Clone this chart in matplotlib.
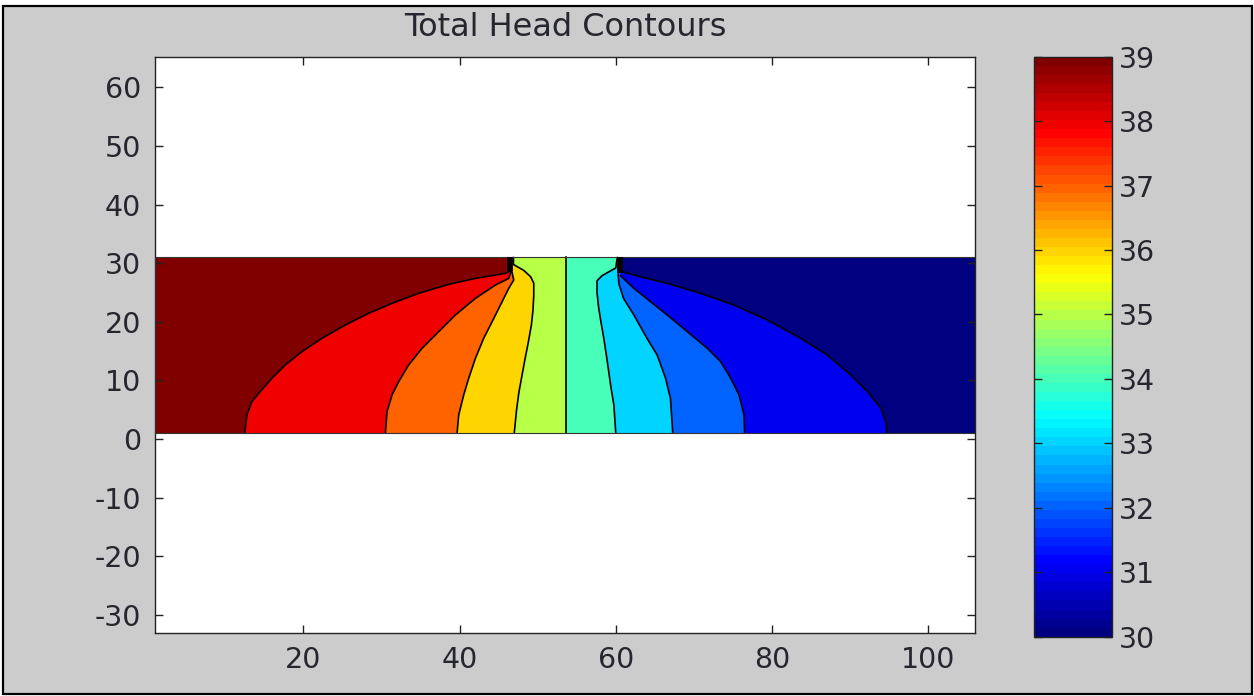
import matplotlib
matplotlib.use("Agg")
import matplotlib.pyplot as plt
import numpy as np
from matplotlib.patches import Rectangle
from matplotlib.colors import Normalize, ListedColormap
from matplotlib.cm import ScalarMappable

plt.rcParams['font.family'] = ['DejaVu Sans']
plt.rcParams['axes.unicode_minus'] = False

# ---- data ----
title = "Total Head Contours"
domain_x = [1, 106]
domain_y = [1, 31]
split_x = 53.6            # 35|34 contour (vertical)

# band head values (left to right)
heads_left = [39, 38, 37, 36, 35]
heads_right = [34, 33, 32, 31, 30]

# contour boundaries, points from bottom to top (x values, y values)
b1_x = [12.5, 12.76, 13.4, 14.46, 15.96, 17.67, 19.81, 22.37, 25.36, 28.35, 31.35, 34.76, 38.6, 42.03, 45.87, 46.5]
b1_y = [1, 4.11, 6.38, 8.09, 10.37, 12.64, 14.91, 17.19, 19.46, 21.45, 23.16, 24.87, 26.4, 27.42, 28.28, 28.7]
b2_x = [30.5, 30.71, 31.35, 32.2, 33.48, 35.19, 37.32, 39.46, 42.03, 44.59, 46.3, 46.6]
b2_y = [1, 4.68, 7.52, 9.8, 12.64, 15.48, 18.32, 21.17, 24.01, 26.28, 27.42, 28.6]
b3_x = [39.68, 39.89, 40.53, 41.17, 42.03, 43.09, 44.17, 45.45, 46.3, 46.94, 46.7]
b3_y = [1, 4.11, 7.52, 10.37, 13.78, 17.19, 20.03, 23.44, 25.72, 27.14, 28.6]
b4_x = [47.0, 47.3, 47.6, 48.0, 48.4, 48.8, 49.2, 49.4, 49.5, 49.5, 49.1, 48.2, 47.4, 46.9, 46.9]
b4_y = [1, 5.0, 8.0, 10.9, 13.8, 16.5, 19.5, 22.0, 24.5, 26.6, 27.7, 28.8, 29.4, 29.8, 31]
b6_x = [60.0, 59.76, 59.4, 59.1, 58.8, 58.47, 58.1, 57.8, 57.6, 57.6, 58.26, 59.2, 60.0, 60.2]
b6_y = [1, 5.8, 8.7, 11.5, 14.3, 17.19, 20.0, 22.5, 25.0, 27.0, 27.9, 28.6, 29.2, 31]
b7_x = [67.3, 67.0, 66.38, 65.3, 64.0, 62.32, 61.0, 60.4, 60.3]
b7_y = [1, 6.95, 10.37, 14.34, 17.19, 21.17, 24.0, 26.5, 28.2]
b8_x = [76.5, 76.42, 75.79, 74.72, 73.44, 71.73, 69.17, 66.6, 64.46, 62.32, 60.6]
b8_y = [1, 4.11, 7.52, 10.37, 13.2, 15.48, 18.32, 21.17, 23.44, 25.72, 27.9]
b9_x = [94.72, 94.59, 93.95, 92.24, 90.1, 87.1, 83.69, 79.41, 75.14, 70.87, 66.6, 63.18, 60.83]
b9_y = [1, 2.97, 5.25, 8.09, 10.93, 14.34, 17.19, 20.31, 22.87, 24.87, 26.57, 27.7, 28.56]

# sheet piles (x position, bottom tip)
pile_x = [46.5, 60.6]
pile_bottom = [28.7, 28.3]

x_ticks = [20, 40, 60, 80, 100]
y_ticks = [-30, -20, -10, 0, 10, 20, 30, 40, 50, 60]
cbar_ticks = [30, 31, 32, 33, 34, 35, 36, 37, 38, 39]
vmin, vmax = 30, 39


def matlab_jet(t):
    t = np.asarray(t, dtype=float)
    r = np.clip(np.minimum(4 * t - 1.5, -4 * t + 4.5), 0, 1)
    g = np.clip(np.minimum(4 * t - 0.5, -4 * t + 3.5), 0, 1)
    b = np.clip(np.minimum(4 * t + 0.5, -4 * t + 2.5), 0, 1)
    return np.stack([r, g, b], axis=-1)


jet64 = ListedColormap(matlab_jet(np.linspace(0, 1, 64)), name='mjet64')
norm = Normalize(vmin, vmax)


def band_color(h):
    return tuple(matlab_jet(norm(h)))


# ---- figure ----
W, H = 1254, 696
fig = plt.figure(figsize=(W / 100, H / 100), dpi=100, facecolor='white')
fig.patches.append(Rectangle((3 / W, 2 / H), (1252 - 3) / W, (690 - 2) / H,
                             transform=fig.transFigure, facecolor='#cccccc',
                             edgecolor='black', linewidth=1.6, zorder=-10))

txt_col = '#26262e'
ax = fig.add_axes([155 / W, (H - 633) / H, 820 / W, 576 / H])
ax.set_facecolor('white')

x0, x1 = domain_x
y0, y1 = domain_y

# left side, painted from the left band inwards
left_bounds = [(b1_x, b1_y), (b2_x, b2_y), (b3_x, b3_y), (b4_x, b4_y)]
ax.fill([x0, split_x, split_x, x0], [y0, y0, y1, y1],
        color=band_color(heads_left[0]), lw=0, zorder=1)
for (bx, by), hv in zip(left_bounds, heads_left[1:]):
    px = list(bx) + [bx[-1], split_x, split_x]
    py = list(by) + [y1, y1, y0]
    ax.fill(px, py, color=band_color(hv), lw=0, zorder=1)

# right side
right_bounds = [(b6_x, b6_y), (b7_x, b7_y), (b8_x, b8_y), (b9_x, b9_y)]
ax.fill([split_x, x1, x1, split_x], [y0, y0, y1, y1],
        color=band_color(heads_right[0]), lw=0, zorder=1)
for (bx, by), hv in zip(right_bounds, heads_right[1:]):
    px = list(bx) + [bx[-1], x1, x1]
    py = list(by) + [y1, y1, y0]
    ax.fill(px, py, color=band_color(hv), lw=0, zorder=1)

# contour lines
for bx, by in left_bounds + right_bounds:
    ax.plot(bx, by, color='black', lw=1.2, zorder=3,
            solid_joinstyle='round', solid_capstyle='round')
ax.plot([split_x, split_x], [y0, y1], color='black', lw=1.2, zorder=3)

# domain outline
ax.plot([x0, x1, x1, x0, x0], [y0, y0, y1, y1, y0], color='#333333', lw=0.8, zorder=3)

# sheet piles
for xp, yb in zip(pile_x, pile_bottom):
    ax.plot([xp, xp], [yb, y1], color='black', lw=4.2, solid_capstyle='butt', zorder=4)

ax.set_xlim(1, 106)
ax.set_ylim(-33.1, 65.2)
ax.set_xticks(x_ticks)
ax.set_yticks(y_ticks)
ax.tick_params(direction='in', top=True, right=True, length=5.8, width=1.0,
               labelsize=20.5, labelcolor=txt_col, color='#222222')
ax.tick_params(axis='y', pad=10)
ax.tick_params(axis='x', pad=9)
for s in ax.spines.values():
    s.set_linewidth(1.0)
    s.set_color('#222222')
ax.set_title(title, fontsize=23, color=txt_col, pad=15)

# colorbar
cax = fig.add_axes([1034 / W, (H - 636.7) / H, 78 / W, 580 / H])
sm = ScalarMappable(norm=norm, cmap=jet64)
cb = fig.colorbar(sm, cax=cax, ticks=cbar_ticks)
cb.outline.set_linewidth(1.0)
cb.outline.set_edgecolor('#222222')
cax.tick_params(direction='in', left=True, right=True, length=5.5, width=1.0,
                labelsize=20.5, labelcolor=txt_col, color='#222222', pad=5)

fig.savefig('out.png', dpi=100, facecolor=fig.get_facecolor())
